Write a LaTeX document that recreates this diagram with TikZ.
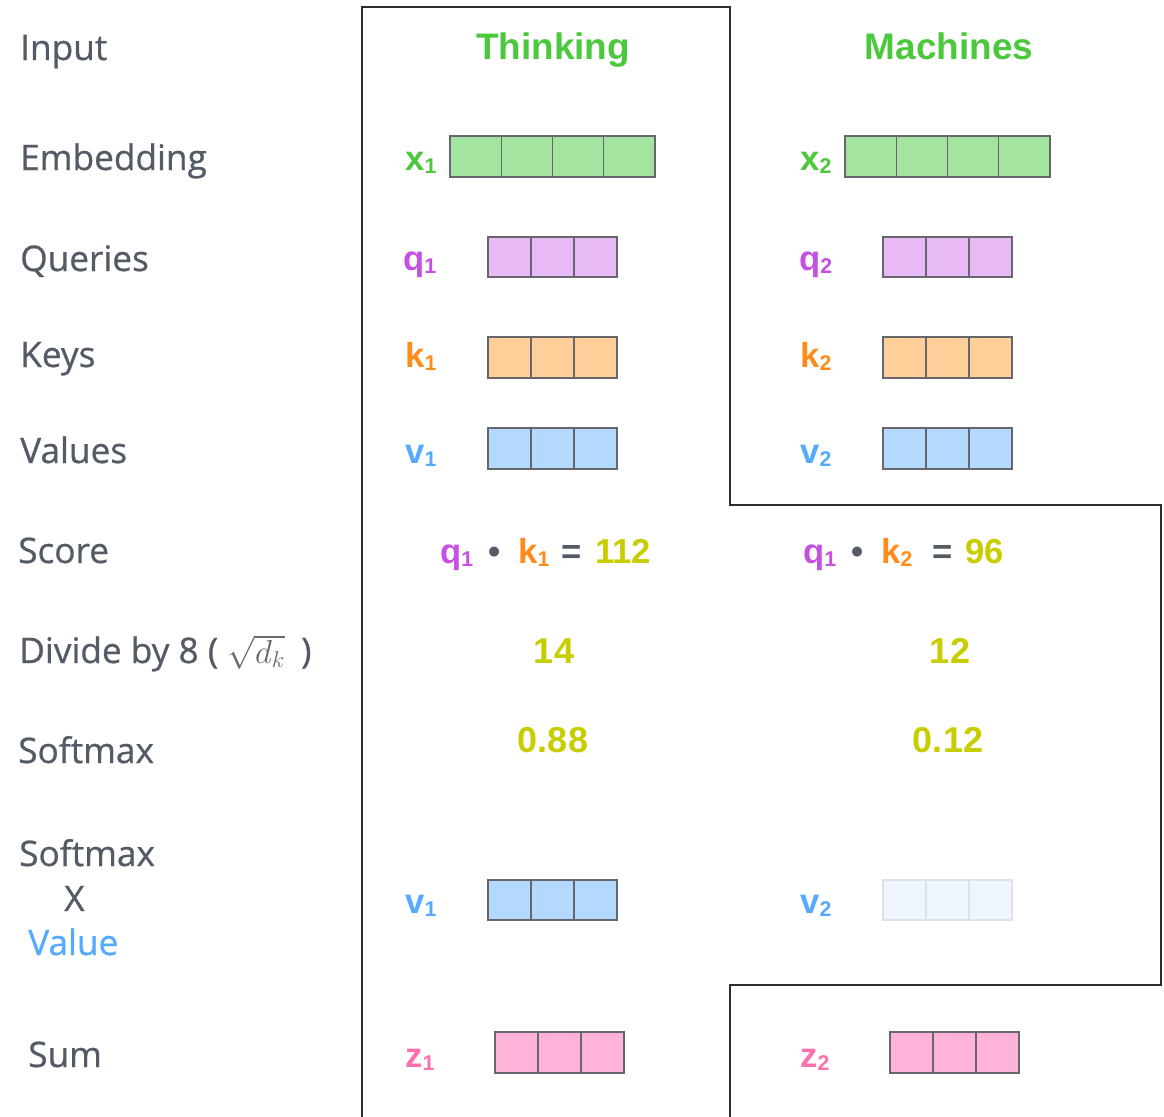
\documentclass[tikz,border=0pt]{standalone}
\usepackage{fontspec}
\setmainfont{Liberation Sans}
\newfontfamily\rowfont{Open Sans}[FakeBold=0.7]

\definecolor{labelgray}{RGB}{83,92,102}
\definecolor{mathgray}{RGB}{105,105,105}
\definecolor{framegray}{RGB}{45,45,45}
\definecolor{cellgray}{RGB}{102,102,108}
\definecolor{wordgreen}{RGB}{76,200,60}
\definecolor{xfill}{RGB}{163,229,160}
\definecolor{qpurple}{RGB}{198,80,225}
\definecolor{qfill}{RGB}{232,186,245}
\definecolor{korange}{RGB}{255,140,26}
\definecolor{kfill}{RGB}{255,207,153}
\definecolor{vblue}{RGB}{85,170,255}
\definecolor{vfill}{RGB}{179,217,255}
\definecolor{vfaded}{RGB}{239,245,253}
\definecolor{fadedgray}{RGB}{222,226,230}
\definecolor{zpink}{RGB}{255,110,173}
\definecolor{zfill}{RGB}{255,179,217}
\definecolor{numyellow}{RGB}{200,205,0}

\newcommand\vsub[1]{\raisebox{-2.4pt}{\fontsize{16}{16}\selectfont #1}}

\tikzset{
  frame/.style={draw=framegray, line width=1.1pt},
  rowlabel/.style={anchor=base west, inner sep=0pt, text=labelgray,
    font=\rowfont\fontsize{26.4}{29}\selectfont},
  veclabel/.style={anchor=base west, inner sep=0pt,
    font=\bfseries\fontsize{26}{28}\selectfont},
  word/.style={anchor=base, inner sep=0pt, text=wordgreen,
    font=\bfseries\fontsize{27.7}{30}\selectfont},
  num/.style={anchor=base, inner sep=0pt, text=numyellow,
    font=\bfseries\fontsize{27}{29}\selectfont},
  cell/.style={draw=cellgray, line width=1pt},
}

\begin{document}
\begin{tikzpicture}[x=0.75pt,y=0.75pt,yscale=-1]
\useasboundingbox (0,0) rectangle (1164,1117);

% outline round the two words
\draw[frame] (362,1117) -- (362,7) -- (730,7) -- (730,505) -- (1161,505)
  -- (1161,985) -- (730,985) -- (730,1117);

% row labels
\node[rowlabel] (lInput) at (20,60) {Input};
\node[rowlabel] (lEmbed) at (20,170) {Embedding};
\node[rowlabel] (lQuery) at (20,271) {Queries};
\node[rowlabel] (lKey) at (20,367) {Keys};
\node[rowlabel] (lValue) at (20,463) {Values};
\node[rowlabel] (lScore) at (18,563) {Score};
\node[rowlabel] (lDivide) at (19,663) {Divide by 8 ( {\color{mathgray}\fontsize{25}{27}\selectfont$\sqrt{d_k}$}\hspace{12pt})};
\node[rowlabel] (lSoft) at (18,763) {Softmax};
\node[rowlabel] (lSoftTwo) at (19,866) {Softmax};
\node[rowlabel] (lTimes) at (64,911) {X};
\node[rowlabel, text=vblue] (lVal) at (28,955) {Value};
\node[rowlabel] (lSum) at (28,1067) {Sum};

% words
\node[word] (wThinking) at (553,59) {Thinking};
\node[word] (wMachines) at (949,59) {Machines};

% vector labels
\node[veclabel, text=wordgreen] (xOne) at (405,170) {x\vsub{1}};
\node[veclabel, text=wordgreen] (xTwo) at (800,170) {x\vsub{2}};
\node[veclabel, text=qpurple] (qOne) at (403,270) {q\vsub{1}};
\node[veclabel, text=qpurple] (qTwo) at (799,270) {q\vsub{2}};
\node[veclabel, text=korange] (kOne) at (405,367) {k\vsub{1}};
\node[veclabel, text=korange] (kTwo) at (800,367) {k\vsub{2}};
\node[veclabel, text=vblue] (vOne) at (405,463) {v\vsub{1}};
\node[veclabel, text=vblue] (vTwo) at (800,463) {v\vsub{2}};
\node[veclabel, text=vblue] (svOne) at (405,913) {v\vsub{1}};
\node[veclabel, text=vblue] (svTwo) at (800,913) {v\vsub{2}};
\node[veclabel, text=zpink] (zOne) at (405,1067) {z\vsub{1}};
\node[veclabel, text=zpink] (zTwo) at (800,1067) {z\vsub{2}};

% vectors
\foreach \i in {0,...,3} {
  \draw[cell, fill=xfill] (450+\i*51.25,136) rectangle ++(51.25,41);
  \draw[cell, fill=xfill] (845+\i*51.25,136) rectangle ++(51.25,41);
}
\foreach \i in {0,1,2} {
  \draw[cell, fill=qfill] (488+\i*43,237) rectangle ++(43,40);
  \draw[cell, fill=qfill] (883+\i*43,237) rectangle ++(43,40);
  \draw[cell, fill=kfill] (488+\i*43,337) rectangle ++(43,41);
  \draw[cell, fill=kfill] (883+\i*43,337) rectangle ++(43,41);
  \draw[cell, fill=vfill] (488+\i*43,428) rectangle ++(43,41);
  \draw[cell, fill=vfill] (883+\i*43,428) rectangle ++(43,41);
  \draw[cell, fill=vfill] (488+\i*43,880) rectangle ++(43,40);
  \draw[draw=fadedgray, line width=1pt, fill=vfaded] (883+\i*43,880) rectangle ++(43,40);
  \draw[cell, fill=zfill] (495+\i*43,1032) rectangle ++(43,41);
  \draw[cell, fill=zfill] (890+\i*43,1032) rectangle ++(43,41);
}

% score
\node[veclabel, text=qpurple] (sqOne) at (440,563) {q\vsub{1}};
\node[veclabel, text=labelgray, anchor=base] (sdotOne) at (495,563) {•};
\node[veclabel, text=korange] (skOne) at (518,563) {k\vsub{1}};
\node[veclabel, text=labelgray] (seqOne) at (561,563) {=};
\node[veclabel, text=numyellow] (svalOne) at (595,563) {112};
\node[veclabel, text=qpurple] (sqTwo) at (803,563) {q\vsub{1}};
\node[veclabel, text=labelgray, anchor=base] (sdotTwo) at (858,563) {•};
\node[veclabel, text=korange] (skTwo) at (881,563) {k\vsub{2}};
\node[veclabel, text=labelgray] (seqTwo) at (932,563) {=};
\node[veclabel, text=numyellow] (svalTwo) at (965,563) {96};

% divided and softmax
\node[num] (dOne) at (554,663) {14};
\node[num] (dTwo) at (950,663) {12};
\node[num] (pOne) at (553,752) {0.88};
\node[num] (pTwo) at (948,752) {0.12};

\end{tikzpicture}
\end{document}
